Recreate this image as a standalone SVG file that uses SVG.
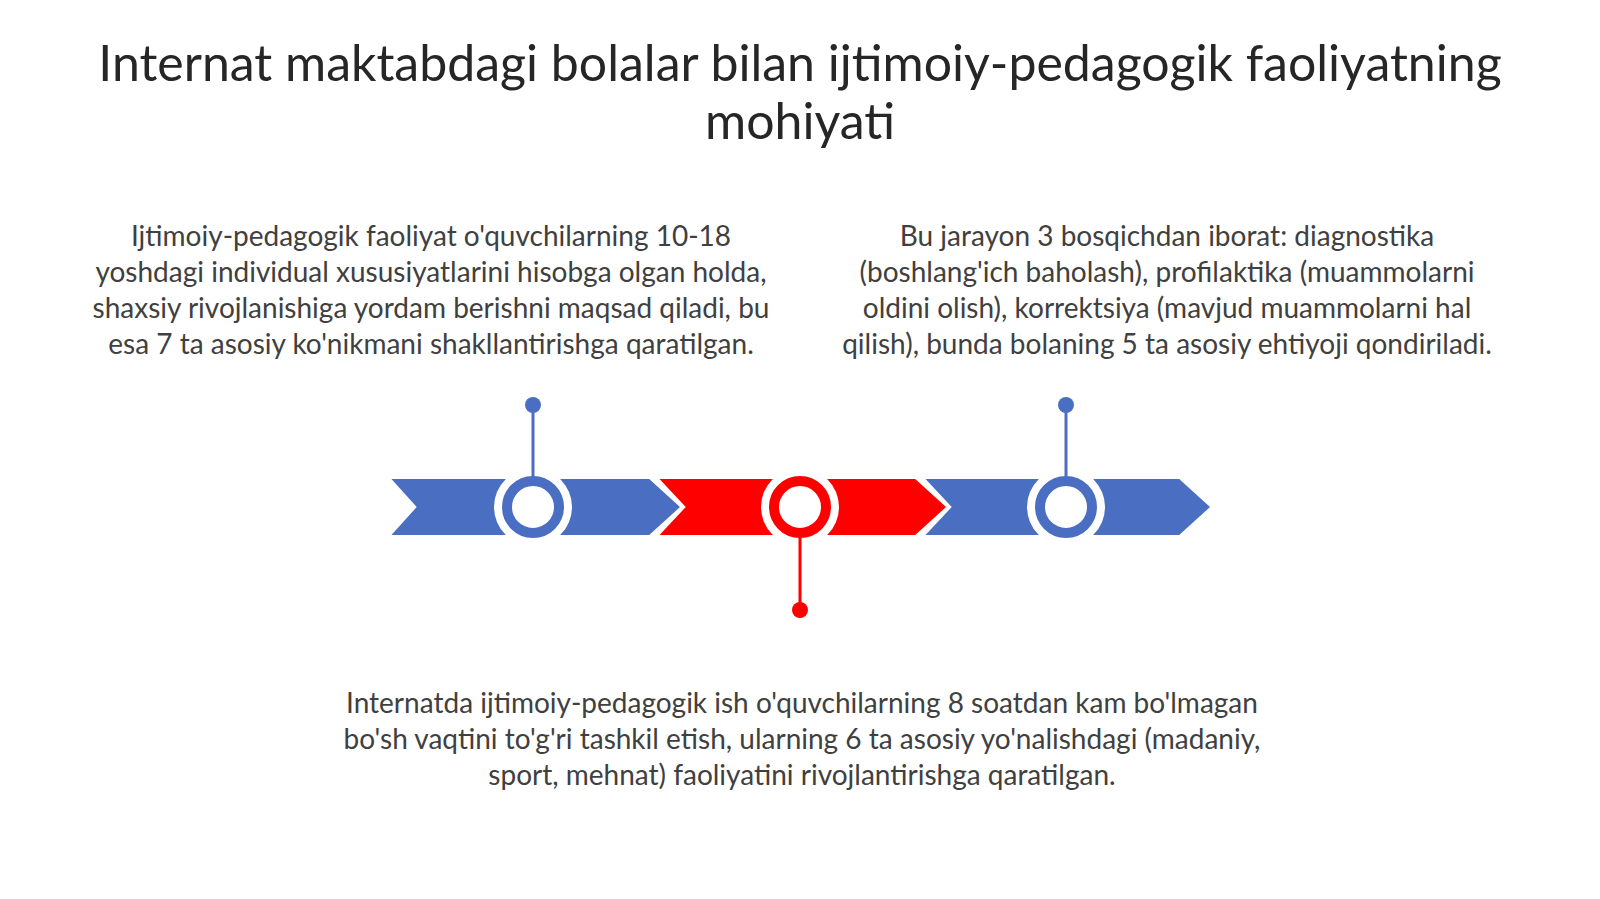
<svg xmlns="http://www.w3.org/2000/svg" width="1600" height="899" viewBox="0 0 1600 899">
<style>
.title{font-family:Lato,"Open Sans","Liberation Sans",sans-serif;font-size:50px;fill:#262626;text-anchor:middle}
.body{font-family:Lato,"Open Sans","Liberation Sans",sans-serif;font-size:28px;fill:#404040;text-anchor:middle}
.blue{fill:#4A6FC2}
.red{fill:#FF0000}
.chev{stroke:#ffffff;stroke-width:4;stroke-linejoin:miter}
.halo{fill:#ffffff}
.ringB{fill:#ffffff;stroke:#4A6FC2;stroke-width:10}
.ringR{fill:#ffffff;stroke:#FF0000;stroke-width:10}
.stemB{stroke:#4A6FC2;stroke-width:3}
.stemR{stroke:#FF0000;stroke-width:3}
</style>
<rect width="1600" height="899" fill="#ffffff"/>
<g id="title">
<text class="title" x="800" y="81">Internat maktabdagi bolalar bilan ijtimoiy-pedagogik faoliyatning</text>
<text class="title" x="800" y="139">mohiyati</text>
</g>
<g id="timeline">
<polygon class="blue chev" points="387,477 650,477 683,507 650,537 387,537 414,507"/>
<polygon class="red chev" points="655,477 916,477 949,507 916,537 655,537 683,507"/>
<polygon class="blue chev" points="921,477 1180,477 1213,507 1180,537 921,537 949,507"/>
</g>
<g id="node1">
<circle class="halo" cx="533" cy="507" r="39"/>
<circle class="ringB" cx="533" cy="507" r="26"/>
<circle class="blue" cx="533" cy="405" r="8"/>
<text class="body" x="431" y="246">Ijtimoiy-pedagogik faoliyat o'quvchilarning 10-18</text>
<text class="body" x="431" y="282">yoshdagi individual xususiyatlarini hisobga olgan holda,</text>
<text class="body" x="431" y="318">shaxsiy rivojlanishiga yordam berishni maqsad qiladi, bu</text>
<text class="body" x="431" y="354">esa 7 ta asosiy ko'nikmani shakllantirishga qaratilgan.</text>
</g>
<g id="node2">
<circle class="halo" cx="800" cy="507" r="39"/>
<circle class="ringR" cx="800" cy="507" r="26"/>
<circle class="red" cx="800" cy="610" r="8"/>
<text class="body" x="802" y="713">Internatda ijtimoiy-pedagogik ish o'quvchilarning 8 soatdan kam bo'lmagan</text>
<text class="body" x="802" y="749">bo'sh vaqtini to'g'ri tashkil etish, ularning 6 ta asosiy yo'nalishdagi (madaniy,</text>
<text class="body" x="802" y="785">sport, mehnat) faoliyatini rivojlantirishga qaratilgan.</text>
</g>
<g id="node3">
<circle class="halo" cx="1066" cy="507" r="39"/>
<circle class="ringB" cx="1066" cy="507" r="26"/>
<circle class="blue" cx="1066" cy="405" r="8"/>
<text class="body" x="1167" y="246">Bu jarayon 3 bosqichdan iborat: diagnostika</text>
<text class="body" x="1167" y="282">(boshlang'ich baholash), profilaktika (muammolarni</text>
<text class="body" x="1167" y="318">oldini olish), korrektsiya (mavjud muammolarni hal</text>
<text class="body" x="1167" y="354">qilish), bunda bolaning 5 ta asosiy ehtiyoji qondiriladi.</text>
</g>
<g id="connectors">
<line class="stemB" x1="533" y1="405" x2="533" y2="477"/>
<line class="stemR" x1="800" y1="537" x2="800" y2="610"/>
<line class="stemB" x1="1066" y1="405" x2="1066" y2="477"/>
</g>
</svg>
